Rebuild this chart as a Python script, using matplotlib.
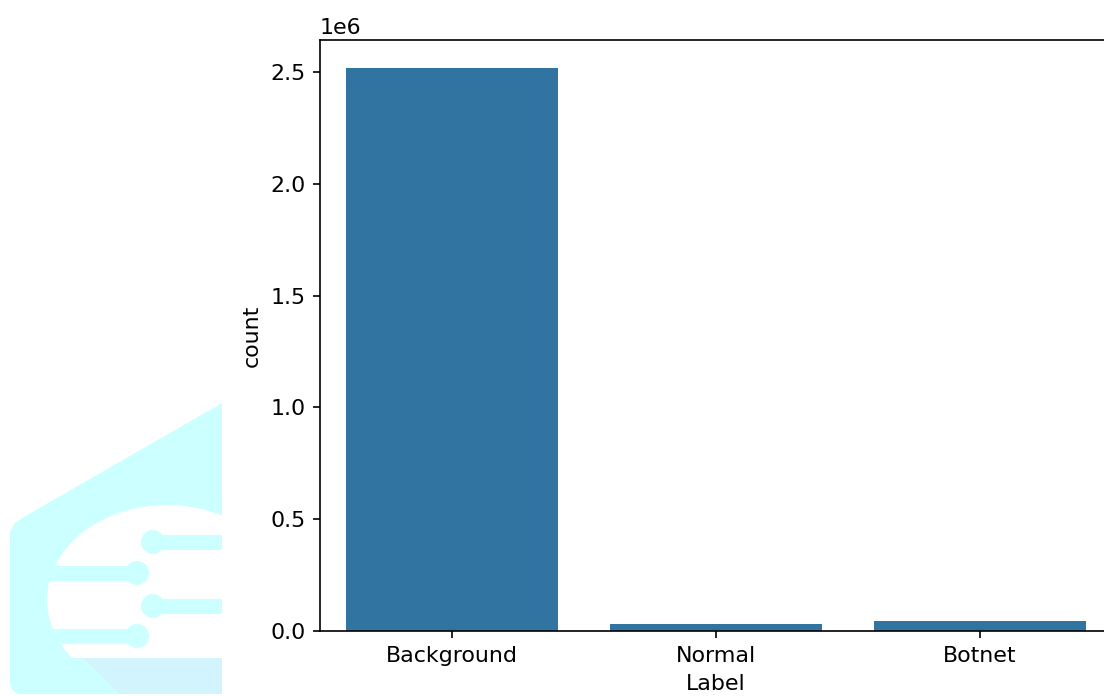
import matplotlib.pyplot as plt
from matplotlib.patches import Polygon, Ellipse, Rectangle, Circle
from matplotlib.transforms import Affine2D

categories = ['Background', 'Normal', 'Botnet']
counts = [2518000, 30000, 43500]

bar_color = '#3274a1'
logo_cyan = '#ccffff'
logo_blue = '#d2f4fc'

plt.rcParams['font.size'] = 10.6

W, H = 1104, 696
fig = plt.figure(figsize=(W / 150, H / 150), dpi=150)

# watermark logo drawn in pixel coordinates (y down)
px = Affine2D().scale(1 / W, -1 / H).translate(0, 1) + fig.transFigure

outer = Polygon([(10, 532), (14, 524), (22, 518), (222, 403), (222, 694),
                 (18, 694), (12, 690), (10, 684)],
                closed=True, transform=px, facecolor=logo_cyan, edgecolor='none')
fig.patches.append(outer)

hole = Ellipse((167, 600), 240, 190, transform=px, facecolor='white', edgecolor='none')
fig.patches.append(hole)
hole.set_clip_path(Polygon([(0, 400), (222, 400), (222, 658), (0, 658)],
                           transform=px))

for x0, x1, yc, cx in [(153, 222, 542, 153), (50, 137, 573, 137),
                       (153, 222, 606, 153), (45, 137, 636, 137)]:
    fig.patches.append(Rectangle((x0, yc - 7.5), x1 - x0, 15, transform=px,
                                 facecolor=logo_cyan, edgecolor='none'))
    fig.patches.append(Circle((cx, yc), 12, transform=px,
                              facecolor=logo_cyan, edgecolor='none'))

fig.patches.append(Polygon([(83, 658), (222, 658), (222, 694), (120, 694)],
                           closed=True, transform=px, facecolor=logo_blue,
                           edgecolor='none'))

# main axes; the right edge runs past the figure like in the reference
ax = fig.add_axes([320 / W, 65 / H, 792 / W, 591 / H])
ax.set_facecolor('none')
ax.bar(categories, counts, width=0.8, color=bar_color)
ax.set_xlim(-0.5, len(categories) - 0.5)
ax.set_xlabel('Label')
ax.set_ylabel('count')

fig.savefig('out.png', dpi=150)
